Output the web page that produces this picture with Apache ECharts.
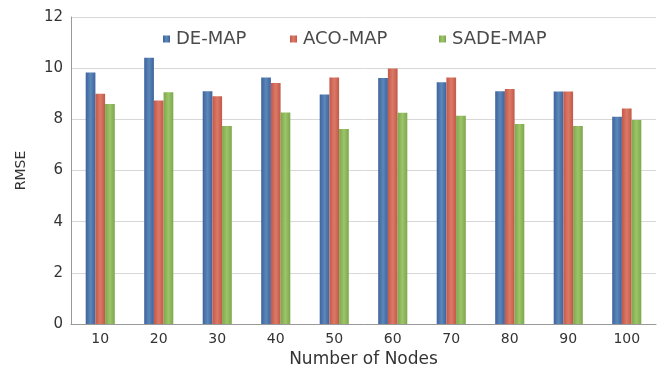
<!DOCTYPE html>
<html>
<head>
<meta charset="utf-8">
<script src="https://cdn.jsdelivr.net/npm/echarts@6/dist/echarts.min.js"></script>
<style>
  html, body { margin: 0; padding: 0; background: #ffffff; }
  #chart { width: 657px; height: 373px; }
</style>
</head>
<body>
<div id="chart"></div>
<script>
// Number of nodes on the x axis
const nodeCounts = ['10', '20', '30', '40', '50', '60', '70', '80', '90', '100'];

// Method names shown in the legend
const methods = ['DE-MAP', 'ACO-MAP', 'SADE-MAP'];

// RMSE for each method
const deMap   = [9.83, 10.41, 9.10, 9.64, 8.97, 9.62, 9.45, 9.10, 9.09, 8.10];
const acoMap  = [9.00, 8.74, 8.90, 9.42, 9.64, 9.99, 9.64, 9.19, 9.09, 8.42];
const sadeMap = [8.60, 9.06, 7.74, 8.27, 7.62, 8.26, 8.14, 7.82, 7.74, 7.97];

function barFill(edge, mid) {
  return new echarts.graphic.LinearGradient(0, 0, 1, 0, [
    { offset: 0, color: edge },
    { offset: 0.5, color: mid },
    { offset: 1, color: edge }
  ]);
}

const chart = echarts.init(document.getElementById('chart'), null, { renderer: 'canvas' });

const fontFamily = 'DejaVu Sans, Verdana, sans-serif';

// One legend block per method so each entry sits at its own spot
const legendLefts = [158, 285, 434];
const legends = methods.map((m, i) => ({
  top: 25,
  left: legendLefts[i],
  itemWidth: 7,
  itemHeight: 7,
  icon: 'rect',
  textStyle: { fontSize: 18, color: '#4a4a4a', fontFamily: fontFamily, padding: [0, 0, 0, 1] },
  data: [m]
}));

chart.setOption({
  backgroundColor: '#ffffff',
  animation: false,
  textStyle: { fontFamily: fontFamily },
  grid: { left: 71, right: 1, top: 17, bottom: 44, containLabel: false },
  legend: legends,
  xAxis: {
    type: 'category',
    data: nodeCounts,
    name: 'Number of Nodes',
    nameLocation: 'middle',
    nameGap: 27,
    nameTextStyle: { fontSize: 17, color: '#333', fontFamily: fontFamily },
    axisLine: { lineStyle: { color: '#999', width: 1 } },
    axisTick: { show: false },
    axisLabel: { fontSize: 14, color: '#333', margin: 8, fontFamily: fontFamily }
  },
  yAxis: {
    type: 'value',
    min: 0,
    max: 12,
    interval: 2,
    name: 'RMSE',
    nameLocation: 'middle',
    nameGap: 43,
    nameRotate: 90,
    nameTextStyle: { fontSize: 14, color: '#333', fontFamily: fontFamily },
    axisLine: { show: true, lineStyle: { color: '#999', width: 1 } },
    axisTick: { show: false },
    axisLabel: { fontSize: 15, color: '#333', margin: 8, fontFamily: fontFamily },
    splitLine: { lineStyle: { color: '#d8d8d8', width: 1 } }
  },
  series: [
    {
      name: methods[0],
      type: 'bar',
      data: deMap,
      barWidth: 9.7,
      barGap: '0%',
      itemStyle: { color: barFill('#3f629e', '#5a88b8') }
    },
    {
      name: methods[1],
      type: 'bar',
      data: acoMap,
      barWidth: 9.7,
      barGap: '0%',
      itemStyle: { color: barFill('#c2584a', '#dc7a66') }
    },
    {
      name: methods[2],
      type: 'bar',
      data: sadeMap,
      barWidth: 9.7,
      barGap: '0%',
      itemStyle: { color: barFill('#7ea64c', '#9cc468') }
    }
  ]
});
</script>
</body>
</html>
